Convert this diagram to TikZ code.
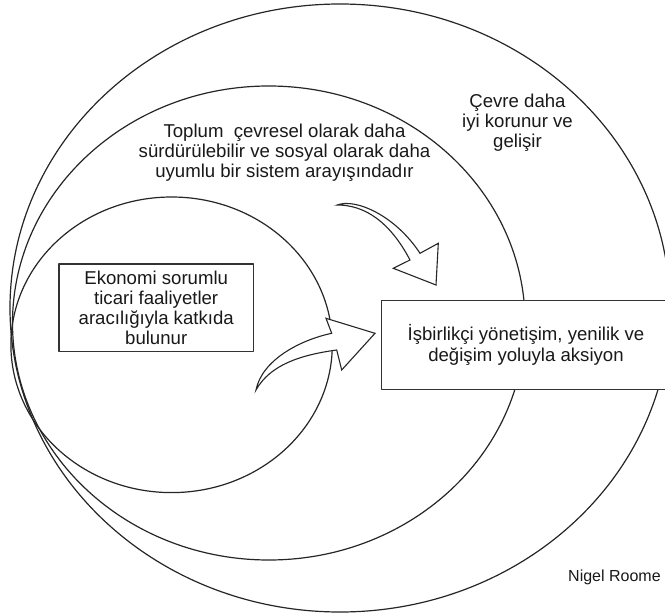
\documentclass[tikz,border=0pt]{standalone}
\usepackage{fontspec}
\setmainfont{Liberation Sans}
\begin{document}
\begin{tikzpicture}[x=1pt,y=-1pt,line join=round]
\tikzset{
  ring/.style={draw=black!85, line width=1.2pt},
  txt/.style={font=\fontsize{18.6}{20.3}\selectfont, align=center, text=black!90, inner sep=0pt},
  panel/.style={draw=black!80, line width=1.4pt, fill=white, txt},
  blockarrow/.style={draw=black!85, line width=1.1pt, fill=white, line join=miter},
}
\useasboundingbox (0,0) rectangle (665,613);
\fill[white] (0,0) rectangle (665,613);
% nested rings
\draw[ring] (340,308) ellipse [x radius=330pt, y radius=304pt];
\draw[ring] (268.8,323) ellipse [x radius=256.3pt, y radius=237pt];
\draw[ring] (171.6,344.8) ellipse [x radius=160.7pt, y radius=147.8pt];
% texts
\node[txt, anchor=north] (env) at (517.5,93.7) {Çevre daha\\iyi korunur ve\\gelişir};
\node[txt, anchor=north] (soc) at (284.5,123.7) {Toplum~ çevresel olarak daha\\sürdürülebilir ve sosyal olarak daha\\uyumlu bir sistem arayışındadır};
\node[panel, minimum width=194.3pt, minimum height=87.7pt] (eco) at (156.2,307.8) {Ekonomi sorumlu\\ticari faaliyetler\\aracılığıyla katkıda\\bulunur};
\node[panel, minimum width=288.6pt, minimum height=88.6pt] (coop) at (526,345) {İşbirlikçi yönetişim, yenilik ve\\değişim yoluyla aksiyon};
\node[font=\fontsize{16}{19}\selectfont, text=black!90, anchor=base west, inner sep=0pt] (credit) at (568,581.7) {Nigel Roome};
% block arrows
\draw[blockarrow] (337.3,205) .. controls (355,198) and (395,215) .. (420,253.3)
  -- (438.3,243.3) -- (436,285) -- (393.3,268.3) -- (410,260)
  .. controls (390,222) and (365,205) .. (337.3,205) -- cycle;
\draw[blockarrow] (256,390) .. controls (262,360) and (300,340) .. (331.7,333.3)
  -- (326,318.3) -- (375,333.3) -- (341.7,370) -- (336.7,350)
  .. controls (300,355) and (270,365) .. (256,390) -- cycle;
\end{tikzpicture}
\end{document}
